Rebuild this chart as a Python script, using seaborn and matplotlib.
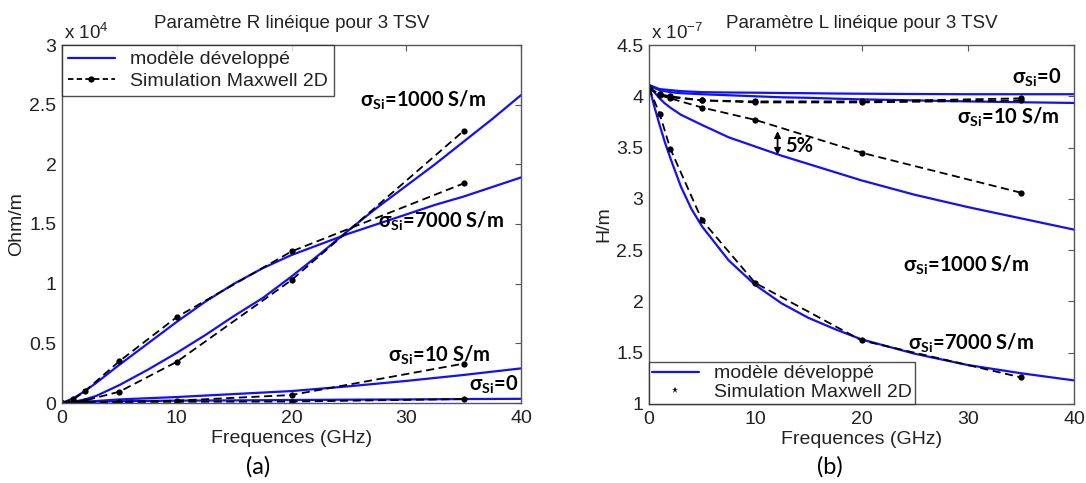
import numpy as np
import pandas as pd
import matplotlib
matplotlib.use("Agg")
import matplotlib.pyplot as plt
from matplotlib.lines import Line2D
import seaborn as sns

# ---------------- data ----------------
# Simulation (Maxwell 2D) frequencies in GHz
f_sim = [0, 1, 2, 5, 10, 20, 35]

# (a) R lineique, in units of 1e4 Ohm/m
R_sim_0 = [0, 0.003, 0.005, 0.008, 0.010, 0.012, 0.033]
R_sim_10 = [0, 0.005, 0.008, 0.010, 0.020, 0.067, 0.33]
R_sim_1000 = [0, 0.010, 0.020, 0.095, 0.345, 1.03, 2.28]
R_sim_7000 = [0, 0.030, 0.100, 0.35, 0.72, 1.27, 1.84]

f_mod_R = [0, 1, 2, 3, 5, 7.5, 10, 12.5, 15, 17.5, 20, 22.5, 25, 27.5, 30, 32.5, 35, 37.5, 40]
R_mod_1000 = [0, 0.01, 0.03, 0.06, 0.15, 0.28, 0.42, 0.57, 0.73, 0.88, 1.06, 1.25, 1.45, 1.64, 1.82, 2.00, 2.19, 2.38, 2.58]
R_mod_7000 = [0, 0.04, 0.10, 0.17, 0.32, 0.50, 0.68, 0.85, 1.00, 1.13, 1.24, 1.33, 1.42, 1.50, 1.58, 1.66, 1.73, 1.81, 1.89]
f_mod_R_low = [0, 2, 5, 10, 15, 20, 25, 30, 35, 40]
R_mod_10 = [0, 0.01, 0.03, 0.05, 0.075, 0.10, 0.14, 0.185, 0.235, 0.29]
R_mod_0 = [0.005, 0.01, 0.015, 0.02, 0.022, 0.025, 0.028, 0.03, 0.033, 0.035]

# (b) L lineique, in units of 1e-7 H/m
L_sim_0 = [4.08, 4.02, 4.00, 3.96, 3.95, 3.95, 3.98]
L_sim_10 = [4.08, 4.02, 3.99, 3.96, 3.94, 3.94, 3.96]
L_sim_1000 = [4.08, 4.01, 3.98, 3.89, 3.77, 3.45, 3.06]
L_sim_7000 = [4.08, 3.83, 3.49, 2.79, 2.18, 1.62, 1.26]

f_mod_L = [0, 0.5, 1, 1.5, 2, 3, 4, 5, 7.5, 10, 12.5, 15, 17.5, 20, 25, 30, 35, 40]
L_mod_0 = [4.11, 4.09, 4.07, 4.065, 4.06, 4.05, 4.045, 4.04, 4.037, 4.035, 4.032, 4.03, 4.027, 4.025, 4.022, 4.02, 4.02, 4.02]
L_mod_10 = [4.11, 4.08, 4.06, 4.05, 4.04, 4.03, 4.025, 4.02, 4.01, 4.00, 3.99, 3.985, 3.977, 3.97, 3.96, 3.95, 3.942, 3.935]
L_mod_1000 = [4.10, 4.04, 3.98, 3.93, 3.89, 3.82, 3.77, 3.72, 3.60, 3.51, 3.42, 3.34, 3.26, 3.18, 3.04, 2.92, 2.81, 2.70]
L_mod_7000 = [4.10, 3.90, 3.72, 3.55, 3.40, 3.12, 2.90, 2.73, 2.40, 2.16, 1.98, 1.84, 1.73, 1.63, 1.49, 1.38, 1.30, 1.23]

x_ticks = [0, 10, 20, 30, 40]
R_ticks = [0, 0.5, 1, 1.5, 2, 2.5, 3]
R_ticklabels = ["0", "0.5", "1", "1.5", "2", "2.5", "3"]
L_ticks = [1, 1.5, 2, 2.5, 3, 3.5, 4, 4.5]
L_ticklabels = ["1", "1.5", "2", "2.5", "3", "3.5", "4", "4.5"]

legend_labels = ["modèle développé", "Simulation Maxwell 2D"]

# ---------------- style ----------------
sns.set_style("white")
plt.rcParams["font.family"] = ["Liberation Sans", "DejaVu Sans"]
plt.rcParams["mathtext.fontset"] = "custom"
plt.rcParams["mathtext.rm"] = "Liberation Sans"
plt.rcParams["mathtext.bf"] = "Lato:bold"
plt.rcParams["mathtext.it"] = "Liberation Sans:italic"

BLUE = "#1010ff"
FRAME = "#555555"
TXT = "#222222"
FS = 14

fig = plt.figure(figsize=(10.86, 4.83), dpi=100)
axA = fig.add_axes([62 / 1086, 1 - 403 / 483, (521 - 62) / 1086, (403 - 45) / 483])
axB = fig.add_axes([649 / 1086, 1 - 404 / 483, (1074 - 649) / 1086, (404 - 45) / 483])


def draw_model(ax, f, v):
    sns.lineplot(x=f, y=v, ax=ax, color=BLUE, lw=1.6, estimator=None, sort=False, legend=False)


def draw_sim(ax, f, v):
    sns.lineplot(x=f, y=v, ax=ax, color="black", lw=1.3, linestyle=(0, (4.5, 2.5)),
                 marker="o", markersize=4.5, markeredgewidth=0, estimator=None,
                 sort=False, legend=False)


for v in [R_mod_1000, R_mod_7000]:
    draw_model(axA, f_mod_R, v)
for v in [R_mod_10, R_mod_0]:
    draw_model(axA, f_mod_R_low, v)
for v in [R_sim_0, R_sim_10, R_sim_1000, R_sim_7000]:
    draw_sim(axA, f_sim, v)

for v in [L_mod_0, L_mod_10, L_mod_1000, L_mod_7000]:
    draw_model(axB, f_mod_L, v)
for v in [L_sim_0, L_sim_10, L_sim_1000, L_sim_7000]:
    draw_sim(axB, f_sim, v)


def style_axes(ax, yt, ytl, ylim):
    ax.set_xlim(0, 40)
    ax.set_ylim(*ylim)
    ax.set_xticks(x_ticks)
    ax.set_xticklabels([str(t) for t in x_ticks])
    ax.set_yticks(yt)
    ax.set_yticklabels(ytl)
    ax.tick_params(direction="in", length=4, width=0.8, color=FRAME, labelsize=FS,
                   labelcolor=TXT, top=True, right=True)
    ax.tick_params(axis="x", pad=5)
    ax.tick_params(axis="y", pad=4)
    for s in ax.spines.values():
        s.set_color(FRAME)
        s.set_linewidth(1.0)
        s.set_visible(True)
    ax.set_xlabel("Frequences (GHz)", fontsize=FS, color=TXT, labelpad=2)


style_axes(axA, R_ticks, R_ticklabels, (0, 3))
style_axes(axB, L_ticks, L_ticklabels, (1, 4.5))

axA.set_ylabel("Ohm/m", fontsize=FS, color=TXT, labelpad=3)
axB.set_ylabel("H/m", fontsize=FS, color=TXT, labelpad=3)
axA.set_title("Paramètre R linéique pour 3 TSV", fontsize=13.5, color=TXT, pad=12)
axB.set_title("Paramètre L linéique pour 3 TSV", fontsize=13.5, color=TXT, pad=12)
axA.text(0.005, 1.005, "x 10$^{4}$", transform=axA.transAxes, fontsize=13.5, color=TXT,
         ha="left", va="bottom")
axB.text(0.005, 1.005, "x 10$^{-7}$", transform=axB.transAxes, fontsize=13.5, color=TXT,
         ha="left", va="bottom")

# legends
hA = [Line2D([], [], color=BLUE, lw=1.6),
      Line2D([], [], color="black", lw=1.3, ls=(0, (3, 1.8)), marker="o", markersize=4.5, markeredgewidth=0)]
legA = axA.legend(hA, legend_labels, loc="upper left", borderaxespad=0, fontsize=FS,
                  frameon=True, fancybox=False, edgecolor="#222222", handlelength=2.4,
                  handletextpad=0.8, borderpad=0.3, labelspacing=0.2)
legA.get_frame().set_linewidth(1.0)
for t in legA.get_texts():
    t.set_color(TXT)

hB = [Line2D([], [], color=BLUE, lw=1.6),
      Line2D([], [], color="black", ls="none", marker="*", markersize=4.5, markeredgewidth=0)]
legB = axB.legend(hB, legend_labels, loc="lower left", borderaxespad=0, fontsize=FS,
                  frameon=True, fancybox=False, edgecolor="#222222", handlelength=2.4,
                  handletextpad=0.8, borderpad=0.15, labelspacing=0.05)
legB.get_frame().set_linewidth(1.0)
for t in legB.get_texts():
    t.set_color(TXT)

# annotations
ann_font = dict(fontsize=14.5, fontweight="bold", family=["Lato", "DejaVu Sans"], color="black",
                ha="left", va="center")


def sig(label):
    return "σ$_{\\mathbf{Si}}$=" + label


axA.text(26.0, 2.54, sig("1000 S/m"), **ann_font)
axA.text(27.5, 1.52, sig("7000 S/m"), **ann_font)
axA.text(28.4, 0.40, sig("10 S/m"), **ann_font)
axA.text(35.5, 0.15, sig("0"), **ann_font)

axB.text(34.2, 4.18, sig("0"), **ann_font)
axB.text(29.0, 3.79, sig("10 S/m"), **ann_font)
axB.text(23.9, 2.35, sig("1000 S/m"), **ann_font)
axB.text(24.4, 1.59, sig("7000 S/m"), **ann_font)
axB.annotate("", xy=(12.1, 3.43), xytext=(12.1, 3.66),
             arrowprops=dict(arrowstyle="<|-|>", color="black", lw=1.3,
                             mutation_scale=9, shrinkA=0, shrinkB=0))
axB.text(12.8, 3.52, "5%", **ann_font)

fig.text(258 / 1086, 1 - 467 / 483, "(a)", fontsize=17, family=["Lato", "DejaVu Sans"],
         ha="center", va="center", color="black")
fig.text(830 / 1086, 1 - 467 / 483, "(b)", fontsize=17, family=["Lato", "DejaVu Sans"],
         ha="center", va="center", color="black")

fig.savefig("out.png", dpi=100, facecolor="white")
